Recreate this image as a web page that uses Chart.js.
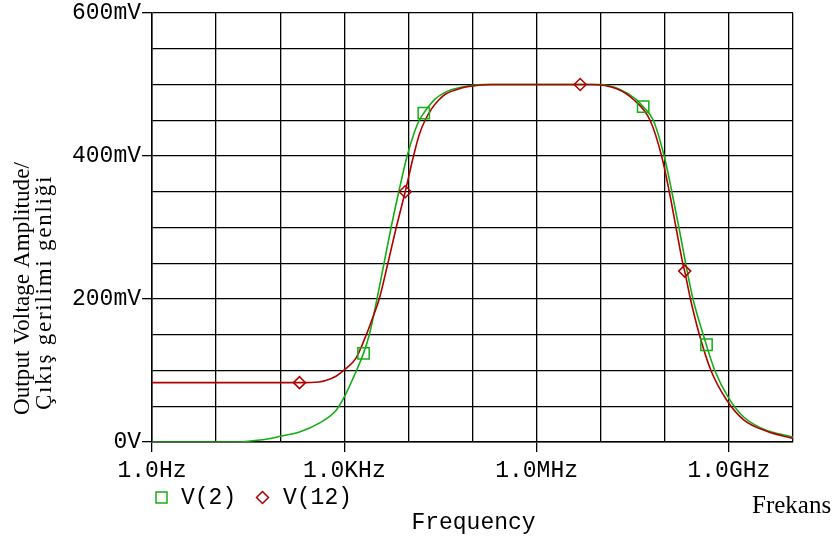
<!DOCTYPE html>
<html lang="tr">
<head>
<meta charset="UTF-8">
<title>Output Voltage Amplitude - V(2) / V(12)</title>
<script src="https://cdn.jsdelivr.net/npm/chart.js"></script>
<style>
    html, body { margin: 0; padding: 0; background: #fff; }
    canvas { display: block; }
</style>
</head>
<body>
<canvas id="grafik" width="838" height="540"></canvas>
<script>
    // values: frequency in Hz, amplitude in mV
    const v2Freq = [1, 20, 40, 70, 100, 200, 400, 741, 1000, 1549, 1995, 2455, 3236, 4169, 5370, 7079, 9550,
        12590, 14790, 17380, 20890, 26300, 35480, 47860, 97700, 150000, 1e7,
        2e7, 3.6e7, 4.6e7, 6.61e7, 9.77e7, 1.288e8, 1.66e8, 2.113e8, 2.754e8, 3.98e8, 6.026e8, 1e9, 1.7e9, 3.5e9, 1e10];
    const v2Amp = [0, 0, 2, 5, 8, 14, 26, 44, 63, 100, 124, 150, 200, 250, 300, 350, 400,
        435, 450, 460, 470, 480, 488, 493, 499, 500, 500,
        493, 479, 469, 450, 400, 350, 300, 250, 200, 150, 100, 61, 35, 18, 7];

    const v12Freq = [1, 200, 400, 513, 741, 1000, 1514, 2138, 2884, 3508, 4786, 6457, 8913, 12020, 14790,
        18200, 23440, 29510, 37150, 67600, 123000, 200000, 7e6,
        1.78e7, 3.24e7, 5.89e7, 8.91e7, 1.175e8, 1.496e8, 1.905e8, 2.042e8, 2.512e8, 3.467e8, 5.248e8, 9.33e8, 1.7e9, 3.9e9, 1e10];
    const v12Amp = [83, 83, 84, 86, 92, 101, 117, 147, 178, 200, 250, 300, 350, 400, 430,
        450, 467, 478, 486, 495, 499, 500, 500,
        494, 479, 450, 400, 350, 300, 250, 239, 200, 150, 100, 58, 31, 15, 5];

    // trace markers
    const v2MarkFreq = [1995, 17380, 4.6e7, 4.47e8];
    const v2MarkAmp = [124, 460, 469, 136];
    const v12MarkFreq = [200, 8913, 4.79e6, 2.042e8];
    const v12MarkAmp = [83, 350, 500, 239];

    // axes
    const decadeTicks = [1, 1e1, 1e2, 1e3, 1e4, 1e5, 1e6, 1e7, 1e8, 1e9, 1e10];
    const xLabelValues = [1, 1e3, 1e6, 1e9];
    const xLabelTexts = ['1.0Hz', '1.0KHz', '1.0MHz', '1.0GHz'];
    const yLabelValues = [0, 200, 400, 600];
    const yLabelTexts = ['0V', '200mV', '400mV', '600mV'];

    const seriesNames = ['V(2)', 'V(12)'];
    const yTitle = ['Output Voltage Amplitude/', 'Çıkış gerilimi genliği'];
    const xTitle = 'Frequency';
    const xTitleTr = 'Frekans';

    const VERDE = '#14ad14';
    const ROSSO = '#b00000';
    const MONO = '"Liberation Mono", "Courier New", monospace';
    const SERIF = '"Liberation Serif", "Times New Roman", serif';

    const punti = (fx, fy) => fx.map((f, i) => ({ x: f, y: fy[i] }));

    // stretch a line of text to a given length
    function testoLargo(ctx, txt, x, y, larghezza) {
        const w = ctx.measureText(txt).width;
        const n = Array.from(txt).length;
        if ('letterSpacing' in ctx && n > 1) {
            ctx.letterSpacing = ((larghezza - w) / n).toFixed(2) + 'px';
        }
        ctx.fillText(txt, x, y);
        if ('letterSpacing' in ctx) ctx.letterSpacing = '0px';
    }

    const decorazioni = {
        id: 'decorazioni',
        afterDraw(chart) {
            const ctx = chart.ctx;
            ctx.save();
            ctx.fillStyle = '#000';
            ctx.textBaseline = 'alphabetic';
            ctx.textAlign = 'left';

            // rotated y title, two lines
            ctx.font = '23px ' + SERIF;
            ctx.save();
            ctx.translate(29, 288.5);
            ctx.rotate(-Math.PI / 2);
            testoLargo(ctx, yTitle[0], -126.5, 0, 253);
            ctx.restore();
            ctx.save();
            ctx.translate(51, 292.5);
            ctx.rotate(-Math.PI / 2);
            testoLargo(ctx, yTitle[1], -117.5, 0, 235);
            ctx.restore();

            ctx.font = '25px ' + SERIF;
            ctx.fillText(xTitleTr, 752, 513);

            ctx.font = '23px ' + MONO;
            ctx.textAlign = 'center';
            ctx.fillText(xTitle, 473.5, 529);

            // legend
            ctx.textAlign = 'left';
            ctx.lineWidth = 1.5;
            ctx.strokeStyle = chart.data.datasets[3].borderColor;
            ctx.strokeRect(156, 492, 11, 11);
            ctx.fillText(seriesNames[0], 181, 504);
            ctx.strokeStyle = chart.data.datasets[2].borderColor;
            ctx.beginPath();
            ctx.moveTo(262.5, 491.5);
            ctx.lineTo(268.5, 497.5);
            ctx.lineTo(262.5, 503.5);
            ctx.lineTo(256.5, 497.5);
            ctx.closePath();
            ctx.stroke();
            ctx.fillText(seriesNames[1], 283, 504);
            ctx.restore();
        }
    };

    new Chart(document.getElementById('grafik'), {
        type: 'line',
        data: {
            datasets: [
                {
                    label: seriesNames[0] + ' markers', data: punti(v2MarkFreq, v2MarkAmp),
                    showLine: false, pointStyle: 'rect', pointRadius: 8, pointBorderWidth: 1.5,
                    pointBorderColor: VERDE, pointBackgroundColor: 'rgba(0,0,0,0)', order: 0
                },
                {
                    label: seriesNames[1] + ' markers', data: punti(v12MarkFreq, v12MarkAmp),
                    showLine: false, pointStyle: 'rectRot', pointRadius: 6, pointBorderWidth: 1.5,
                    pointBorderColor: ROSSO, pointBackgroundColor: 'rgba(0,0,0,0)', order: 0
                },
                {
                    label: seriesNames[1], data: punti(v12Freq, v12Amp),
                    borderColor: ROSSO, borderWidth: 1.6, pointRadius: 0,
                    cubicInterpolationMode: 'monotone', order: 1
                },
                {
                    label: seriesNames[0], data: punti(v2Freq, v2Amp),
                    borderColor: VERDE, borderWidth: 1.6, pointRadius: 0,
                    cubicInterpolationMode: 'monotone', order: 2
                }
            ]
        },
        options: {
            responsive: false,
            animation: false,
            events: [],
            devicePixelRatio: 1,
            layout: { padding: { top: 13, right: 45, left: 0, bottom: 0 } },
            plugins: {
                legend: { display: false },
                tooltip: { enabled: false }
            },
            scales: {
                x: {
                    type: 'logarithmic',
                    min: 1,
                    max: 1e10,
                    afterBuildTicks: s => { s.ticks = decadeTicks.map(v => ({ value: v })); },
                    afterFit: s => { s.height = 98; s.paddingLeft = 0; s.paddingRight = 0; },
                    ticks: {
                        autoSkip: false,
                        maxRotation: 0,
                        padding: 5,
                        color: '#000',
                        font: { family: MONO, size: 23 },
                        callback: v => {
                            const i = xLabelValues.indexOf(v);
                            return i < 0 ? '' : xLabelTexts[i];
                        }
                    },
                    grid: {
                        color: '#000',
                        lineWidth: 1.3,
                        tickLength: 10,
                        tickColor: c => (c.tick && xLabelValues.includes(c.tick.value)) ? '#000' : 'rgba(0,0,0,0)'
                    },
                    border: { color: '#000', width: 1.5 }
                },
                y: {
                    min: 0,
                    max: 600,
                    afterFit: s => { s.width = 152; s.paddingTop = 0; s.paddingBottom = 0; },
                    ticks: {
                        stepSize: 50,
                        autoSkip: false,
                        padding: 1,
                        color: '#000',
                        font: { family: MONO, size: 23 },
                        callback: v => {
                            const i = yLabelValues.indexOf(v);
                            return i < 0 ? '' : yLabelTexts[i];
                        }
                    },
                    grid: {
                        color: '#000',
                        lineWidth: 1.3,
                        tickLength: 10,
                        tickColor: c => (c.tick && yLabelValues.includes(c.tick.value)) ? '#000' : 'rgba(0,0,0,0)'
                    },
                    border: { color: '#000', width: 1.5 }
                }
            }
        },
        plugins: [decorazioni]
    });
</script>
</body>
</html>
